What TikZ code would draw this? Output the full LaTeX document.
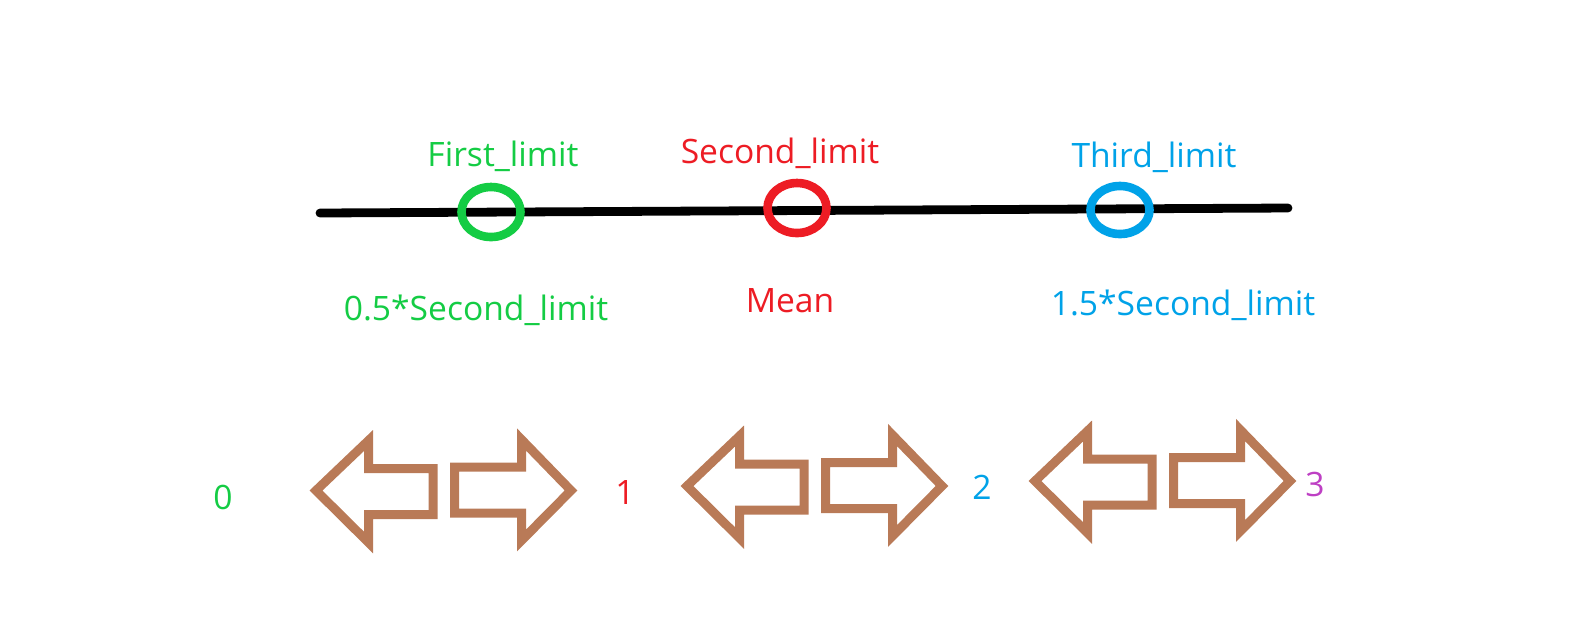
\documentclass[tikz,border=0pt]{standalone}
\usepackage{fontspec}
\setmainfont{Open Sans}
\usetikzlibrary{shapes.geometric}
\definecolor{limitgreen}{RGB}{20,204,68}
\definecolor{limitred}{RGB}{237,28,36}
\definecolor{limitblue}{RGB}{0,162,232}
\definecolor{zonepurple}{RGB}{190,64,196}
\definecolor{arrowbrown}{RGB}{185,122,87}

\begin{document}
\begin{tikzpicture}[x=0.5pt, y=-0.5pt,
  txt/.style={font=\fontsize{16.8}{20}\selectfont, inner sep=0pt, anchor=base},
  ring/.style={ellipse, draw=#1, line width=4.3pt, minimum width=29.5pt, minimum height=25pt, inner sep=0pt},
  brownarrow/.style={draw=arrowbrown, line width=4.5pt, line join=miter}]
\useasboundingbox (0,0) rectangle (1575,629);
\coordinate (line start) at (320,213);
\coordinate (line end) at (1288,208);
\draw[line width=4.4pt, line cap=round] (line start) -- (line end);

\node[ring=limitgreen] (first) at (491,212) {};
\node[ring=limitred] (second) at (797,208) {};
\node[ring=limitblue, minimum height=24pt] (third) at (1120,210) {};

\node[txt, text=limitgreen] (first label) at (503,166) {First\_limit};
\node[txt, text=limitred] (second label) at (780,163) {Second\_limit};
\node[txt, text=limitblue] (third label) at (1154,167) {Third\_limit};
\node[txt, text=limitgreen] (first value) at (476,320) {0.5*Second\_limit};
\node[txt, text=limitred] (second value) at (790,312) {Mean};
\node[txt, text=limitblue] (third value) at (1183,315) {1.5*Second\_limit};

\foreach \px/\py in {310/490.5, 681/486, 1029/481} {
  \begin{scope}[shift={(\px,\py)}]
  \draw[brownarrow] (6,0) -- (58.5,-50) -- (58.5,-22) -- (123,-22) -- (123,24) -- (58.5,24) -- (58.5,52) -- cycle;
  \draw[brownarrow] (144.5,-23.5) -- (211.5,-23.5) -- (211.5,-51) -- (261,0) -- (211.5,50) -- (211.5,22.5) -- (144.5,22.5) -- cycle;
  \end{scope}
}

\foreach \n/\x/\y/\c in {0/223/509/limitgreen, 1/625/504/limitred, 2/982/499/limitblue, 3/1315/496/zonepurple}
  \node[txt, text=\c] (num \n) at (\x,\y) {\n};
\end{tikzpicture}
\end{document}
